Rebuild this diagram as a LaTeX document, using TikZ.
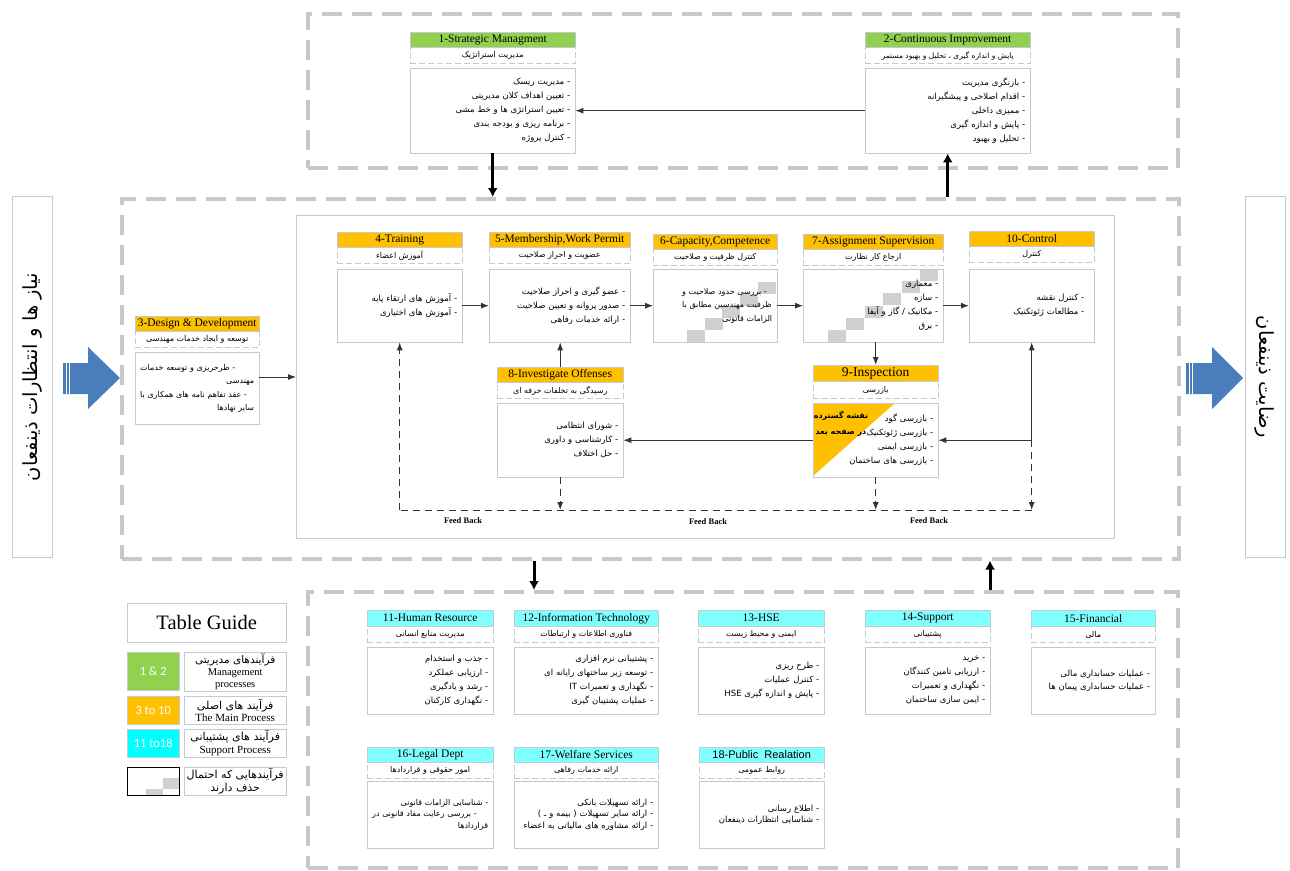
\documentclass[tikz,border=0pt]{standalone}
\usepackage{fontspec}
\setmainfont{Liberation Serif}
\setsansfont{Liberation Sans}
\newfontfamily\arabicfont[Script=Arabic]{DejaVu Sans}
\newfontfamily\calfont{Carlito}
\usetikzlibrary{positioning,arrows.meta}
\TeXXeTstate=1
\newcommand{\pers}[1]{{\arabicfont\beginR #1\endR}}
\definecolor{cgreen}{HTML}{92D050}
\definecolor{corange}{HTML}{FFC000}
\definecolor{ccyan}{HTML}{80FFFF}
\definecolor{caqua}{HTML}{00FFFF}
\definecolor{cedge}{HTML}{C3CAD5}
\definecolor{cframe}{HTML}{C8C8C8}
\definecolor{cchk}{HTML}{D0D0D0}
\definecolor{cblue}{HTML}{4A7EBB}
\begin{document}
\begin{tikzpicture}[
    x=1pt, y=-1pt,
    % cadres en tirets
    cadre/.style={draw=cframe, line width=3.5pt, dash pattern=on 20pt off 10pt, anchor=north west, inner sep=0pt},
    % bandeau de titre
    titre/.style={draw=cedge, anchor=north west, minimum height=15pt, inner sep=0pt, font=\fontsize{11.5}{12}\selectfont},
    % sous-titre en persan
    sous/.style={draw=cedge, dash pattern=on 6pt off 3pt, minimum height=16pt, inner sep=0pt, font=\arabicfont\fontsize{8}{9}\selectfont},
    % corps du bloc
    corps/.style={draw=cedge, anchor=north west, inner xsep=5pt, inner ysep=0pt, align=right, font=\arabicfont\fontsize{8.5}{14}\selectfont},
    fleche/.style={draw=black!80, line width=0.9pt, -{Latex[length=8pt,width=6pt]}},
    tirets/.style={fleche, dash pattern=on 7pt off 5pt},
    epaisse/.style={line width=3pt, -{Latex[length=9pt,width=10pt]}},
    fbtexte/.style={font=\bfseries\fontsize{8.5}{9}\selectfont},
    pastille/.style={draw=cedge, anchor=north west, minimum width=52pt, inner sep=0pt, text=white, font=\calfont\fontsize{12.5}{13}\selectfont},
    legende/.style={draw=cedge, anchor=north west, minimum width=102pt, inner sep=0pt, align=center, font=\fontsize{11}{12.5}\selectfont}
]
\useasboundingbox (0,0) rectangle (1290,870);
% Cadres
\node[cadre, minimum width=870pt, minimum height=154pt] (haut) at (306,12) {};
\node[cadre, minimum width=1057pt, minimum height=360pt] (milieu) at (120,197) {};
\node[cadre, minimum width=870pt, minimum height=276pt] (bas) at (306,590) {};
\node[draw=cedge, anchor=north west, inner sep=0pt, minimum width=818pt, minimum height=323pt] (interieur) at (296,215) {};
% Parties prenantes
\node[draw=cedge, rotate=90, minimum width=361pt, minimum height=40pt, inner sep=0pt, font=\arabicfont\fontsize{19.5}{20}\selectfont] (attentes) at (32,377) {\beginR نیاز ها و انتظارات ذینفعان\endR};
\node[draw=cedge, rotate=-90, minimum width=361pt, minimum height=40pt, inner sep=0pt, font=\arabicfont\fontsize{19.5}{20}\selectfont] (satisfaction) at (1265,377) {\beginR رضایت ذینفعان\endR};
\fill[cblue] (63,363) -- (88,363) -- (88,347) -- (120,378) -- (88,409) -- (88,394) -- (63,394) -- cycle;
\fill[cblue] (1186,363) -- (1212,363) -- (1212,347) -- (1243,378) -- (1212,409) -- (1212,394) -- (1186,394) -- cycle;
\draw[white, line width=0.6pt] (66,363) -- (66,394) (69,363) -- (69,394) (1189,363) -- (1189,394) (1192,363) -- (1192,394);
% Cases grisees
\foreach \i in {0,...,4} \fill[cchk] ({758-17.8*\i},{282+12*\i}) rectangle +(18,12);
\foreach \i in {0,...,5} \fill[cchk] ({920-18.4*\i},{269+12.2*\i}) rectangle +(18,12);
\fill[corange] (813,403) -- (895,403) -- (813,476) -- cycle;

% 1
\node[titre, fill=cgreen, minimum width=165pt] (t1) at (410,32) {1-Strategic Managment};
\node[sous, minimum width=165pt, below=0pt of t1] (s1) {\pers{مدیریت استراتژیک}};
\node[corps, text width=155pt, minimum height=85pt] (b1) at (410,68) {\pers{- مدیریت ریسک}\\\pers{- تعیین اهداف کلان مدیریتی}\\\pers{- تعیین استراتژی ها و خط مشی}\\\pers{- برنامه ریزی و بودجه بندی}\\\pers{- کنترل پروژه}};
% 2
\node[titre, fill=cgreen, minimum width=165pt] (t2) at (865,32) {2-Continuous Improvement};
\node[sous, minimum width=165pt, below=0pt of t2, font=\arabicfont\fontsize{7.5}{9}\selectfont] (s2) {\pers{پایش و اندازه گیری ، تحلیل و بهبود مستمر}};
\node[corps, text width=155pt, minimum height=85pt] (b2) at (865,68) {\pers{- بازنگری مدیریت}\\\pers{- اقدام اصلاحی و پیشگیرانه}\\\pers{- ممیزی داخلی}\\\pers{- پایش و اندازه گیری}\\\pers{- تحلیل و بهبود}};
% 3
\node[titre, fill=corange, minimum width=124pt] (t3) at (135,316) {3-Design \& Development};
\node[sous, minimum width=124pt, below=0pt of t3] (s3) {\pers{توسعه و ایجاد خدمات مهندسی}};
\node[corps, text width=114pt, minimum height=72pt, font=\arabicfont\fontsize{8}{13.5}\selectfont] (b3) at (135,352) {\makebox[114pt][s]{\beginR - طرحریزی و توسعه خدمات\endR}\\\pers{مهندسی}\\\makebox[114pt][s]{\beginR - عقد تفاهم نامه های همکاری با\endR}\\\pers{سایر نهادها}};
% 4
\node[titre, fill=corange, minimum width=125pt] (t4) at (337,232) {4-Training};
\node[sous, minimum width=125pt, below=0pt of t4] (s4) {\pers{آموزش اعضاء}};
\node[corps, text width=115pt, minimum height=73pt] (b4) at (337,269) {\pers{- آموزش های ارتقاء پایه}\\\pers{- آموزش های اختیاری}};
% 5
\node[titre, fill=corange, minimum width=141pt] (t5) at (489,232) {5-Membership,Work Permit};
\node[sous, minimum width=141pt, below=0pt of t5] (s5) {\pers{عضویت و احراز صلاحیت}};
\node[corps, text width=131pt, minimum height=73pt] (b5) at (489,269) {\pers{- عضو گیری و احراز صلاحیت}\\\pers{- صدور پروانه و تعیین صلاحیت}\\\pers{- ارائه خدمات رفاهی}};
% 6
\node[titre, fill=corange, minimum width=124pt] (t6) at (653,234) {6-Capacity,Competence};
\node[sous, minimum width=124pt, below=0pt of t6] (s6) {\pers{کنترل ظرفیت و صلاحیت}};
\node[corps, text width=114pt, minimum height=73pt, font=\arabicfont\fontsize{8}{13.5}\selectfont] (b6) at (653,269) {\makebox[90pt][s]{\beginR - بررسی حدود صلاحیت و\endR}\\\makebox[90pt][s]{\beginR ظرفیت مهندسین مطابق با\endR}\\\pers{الزامات قانونی}};
% 7
\node[titre, fill=corange, minimum width=140pt] (t7) at (803,234) {7-Assignment Supervision};
\node[sous, minimum width=140pt, below=0pt of t7] (s7) {\pers{ارجاع کار نظارت}};
\node[corps, text width=130pt, minimum height=73pt] (b7) at (803,269) {\pers{- معماری}\\\pers{- سازه}\\\pers{- مکانیک / گاز و آیفا}\\\pers{- برق}};
% 10
\node[titre, fill=corange, minimum width=125pt] (t10) at (969,231) {10-Control};
\node[sous, minimum width=125pt, below=0pt of t10] (s10) {\pers{کنترل}};
\node[corps, inner xsep=10pt, text width=105pt, minimum height=73pt] (b10) at (969,269) {\pers{- کنترل نقشه}\\\pers{- مطالعات ژئوتکنیک}};
% 8
\node[titre, fill=corange, minimum width=126pt] (t8) at (497,367) {8-Investigate Offenses};
\node[sous, minimum width=126pt, below=0pt of t8] (s8) {\pers{رسیدگی به تخلفات حرفه ای}};
\node[corps, text width=116pt, minimum height=74pt] (b8) at (497,403) {\pers{- شورای انتظامی}\\\pers{- کارشناسی و داوری}\\\pers{- حل اختلاف}};
% 9
\node[titre, fill=corange, minimum width=125pt, minimum height=16pt, font=\fontsize{13.5}{14}\selectfont] (t9) at (813,365) {9-Inspection};
\node[sous, minimum width=125pt, minimum height=17pt, below=0pt of t9] (s9) {\pers{بازرسی}};
\node[corps, text width=115pt, minimum height=74pt] (b9) at (813,403) {\pers{- بازرسی گود}\\\pers{- بازرسی ژئوتکنیک}\\\pers{- بازرسی ایمنی}\\\pers{- بازرسی های ساختمان}};
\node[font=\arabicfont\bfseries\fontsize{8}{16}\selectfont, align=center, inner sep=0pt] (renvoi) at (841,424) {\beginR نقشه گسترده\endR\\\beginR در صفحه بعد\endR};

% 11
\node[titre, fill=ccyan, minimum width=126pt, minimum height=16pt] (t11) at (367,610) {11-Human Resource};
\node[sous, minimum width=126pt, below=0pt of t11] (s11) {\pers{مدیریت منابع انسانی}};
\node[corps, text width=116pt, minimum height=67pt] (b11) at (367,647) {\pers{- جذب و استخدام}\\\pers{- ارزیابی عملکرد}\\\pers{- رشد و یادگیری}\\\pers{- نگهداری کارکنان}};
% 12
\node[titre, fill=ccyan, minimum width=144pt, minimum height=16pt] (t12) at (514,610) {12-Information Technology};
\node[sous, minimum width=144pt, below=0pt of t12] (s12) {\pers{فناوری اطلاعات و ارتباطات}};
\node[corps, text width=134pt, minimum height=67pt] (b12) at (514,647) {\pers{- پشتیبانی نرم افزاری}\\\pers{- توسعه زیر ساختهای رایانه ای}\\\pers{- نگهداری و تعمیرات IT}\\\pers{- عملیات پشتیبان گیری}};
% 13
\node[titre, fill=ccyan, minimum width=126pt, minimum height=16pt] (t13) at (698,610) {13-HSE};
\node[sous, minimum width=126pt, below=0pt of t13] (s13) {\pers{ایمنی و محیط زیست}};
\node[corps, text width=116pt, minimum height=67pt] (b13) at (698,647) {\pers{- طرح ریزی}\\\pers{- کنترل عملیات}\\\pers{- پایش و اندازه گیری HSE}};
% 14
\node[titre, fill=ccyan, minimum width=125pt, minimum height=16pt] (t14) at (865,610) {14-Support};
\node[sous, minimum width=125pt, below=0pt of t14] (s14) {\pers{پشتیبانی}};
\node[corps, text width=115pt, minimum height=67pt] (b14) at (865,647) {\pers{- خرید}\\\pers{- ارزیابی تامین کنندگان}\\\pers{- نگهداری و تعمیرات}\\\pers{- ایمن سازی ساختمان}};
% 15
\node[titre, fill=ccyan, minimum width=124pt, minimum height=16pt] (t15) at (1031,610) {15-Financial};
\node[sous, minimum width=124pt, below=0pt of t15] (s15) {\pers{مالی}};
\node[corps, text width=114pt, minimum height=67pt, font=\arabicfont\fontsize{8.5}{12.5}\selectfont] (b15) at (1031,647) {\pers{- عملیات حسابداری مالی}\\\pers{- عملیات حسابداری پیمان ها}};
% 16
\node[titre, fill=ccyan, minimum width=126pt] (t16) at (367,747) {16-Legal Dept};
\node[sous, minimum width=126pt, below=0pt of t16] (s16) {\pers{امور حقوقی و قراردادها}};
\node[corps, text width=116pt, minimum height=67pt, font=\arabicfont\fontsize{8}{11.5}\selectfont] (b16) at (367,781) {\pers{- شناسایی الزامات قانونی}\\\makebox[116pt][s]{\beginR - بررسی رعایت مفاد قانونی در\endR}\\\pers{قراردادها}};
% 17
\node[titre, fill=ccyan, minimum width=144pt] (t17) at (514,747) {17-Welfare Services};
\node[sous, minimum width=144pt, below=0pt of t17] (s17) {\pers{ارائه خدمات رفاهی}};
\node[corps, text width=134pt, minimum height=67pt, font=\arabicfont\fontsize{8.5}{11.5}\selectfont] (b17) at (514,781) {\pers{- ارائه تسهیلات بانکی}\\\pers{- ارائه سایر تسهیلات ( بیمه و ـ )}\\\pers{- ارائه مشاوره های مالیاتی به اعضاء}};
% 18
\node[titre, fill=ccyan, minimum width=125pt, font=\sffamily\fontsize{11}{12}\selectfont] (t18) at (699,747) {18-Public\ \ Realation};
\node[sous, minimum width=125pt, below=0pt of t18] (s18) {\pers{روابط عمومی}};
\node[corps, text width=115pt, minimum height=67pt, font=\arabicfont\fontsize{8.5}{11.5}\selectfont] (b18) at (699,781) {\pers{- اطلاع رسانی}\\\pers{- شناسایی انتظارات ذینفعان}};

% Guide
\node[draw=cedge, anchor=north west, minimum width=159pt, minimum height=39pt, inner sep=0pt, font=\fontsize{20.5}{22}\selectfont] (guide) at (127,603) {Table Guide};
\node[pastille, fill=cgreen, minimum height=38pt] (p1) at (127,652) {1 \& 2};
\node[legende, minimum height=39pt, font=\fontsize{10.5}{11.8}\selectfont] (l1) at (184,652) {\pers{فرآیندهای مدیریتی}\\Management\\processes};
\node[pastille, fill=corange, minimum height=28pt] (p2) at (127,696) {3 to 10};
\node[legende, minimum height=28pt] (l2) at (184,696) {\pers{فرآیند های اصلی}\\The Main Process};
\node[pastille, fill=caqua, minimum height=28pt] (p3) at (127,729) {11 to18};
\node[legende, minimum height=28pt] (l3) at (184,729) {\pers{فرآیند های پشتیبانی}\\Support Process};
\fill[cchk] (163,778) rectangle (179,789);
\fill[cchk] (146,789) rectangle (163,795);
\node[pastille, draw=black, line width=1.2pt, minimum height=28pt] (p4) at (127,767) {};
\node[legende, minimum height=28pt] (l4) at (184,767) {\pers{فرآیندهایی که احتمال}\\\pers{حذف دارند}};

% Liaisons
\draw[fleche] (b2.west) -- (b1.east);
\draw[epaisse] (b1.south) -- (b1.south |- milieu.north);
\draw[epaisse] (b2.south |- milieu.north) -- (b2.south);
\draw[fleche] (b3.east |- attentes) -- (interieur.west |- attentes);
\draw[fleche] (b4.east) -- (b5.west);
\draw[fleche] (b5.east) -- (b6.west);
\draw[fleche] (b6.east) -- (b7.west);
\draw[fleche] (b7.east) -- (b10.west);
\draw[fleche] (b7.south -| t9.north) -- (t9.north);
\draw[fleche] (t8.north) -- (t8.north |- b5.south);
\draw[fleche] (b9.west) -- (b8.east);
\coordinate (jonction) at (b10.south |- b9.east);
\coordinate (retour) at (0,510);
\draw[fleche] (jonction) -- (b9.east);
\draw[fleche] (jonction) -- (b10.south);
\draw[tirets] (jonction) -- (jonction |- retour);
\draw[tirets] (b8.south) -- (b8.south |- retour);
\draw[tirets] (b9.south) -- (b9.south |- retour);
\draw[draw=black!80, line width=0.9pt, dash pattern=on 7pt off 5pt] (jonction |- retour) -- (b4.south |- retour);
\draw[tirets] (b4.south |- retour) -- (b4.south);
\node[fbtexte] (fb1) at (463,521) {Feed Back};
\node[fbtexte] (fb2) at (708,522) {Feed Back};
\node[fbtexte] (fb3) at (929,521) {Feed Back};
\coordinate (descente) at (534,0);
\coordinate (montee) at (990,0);
\draw[epaisse] (milieu.south -| descente) -- (bas.north -| descente);
\draw[epaisse] (bas.north -| montee) -- (milieu.south -| montee);
\end{tikzpicture}
\end{document}
